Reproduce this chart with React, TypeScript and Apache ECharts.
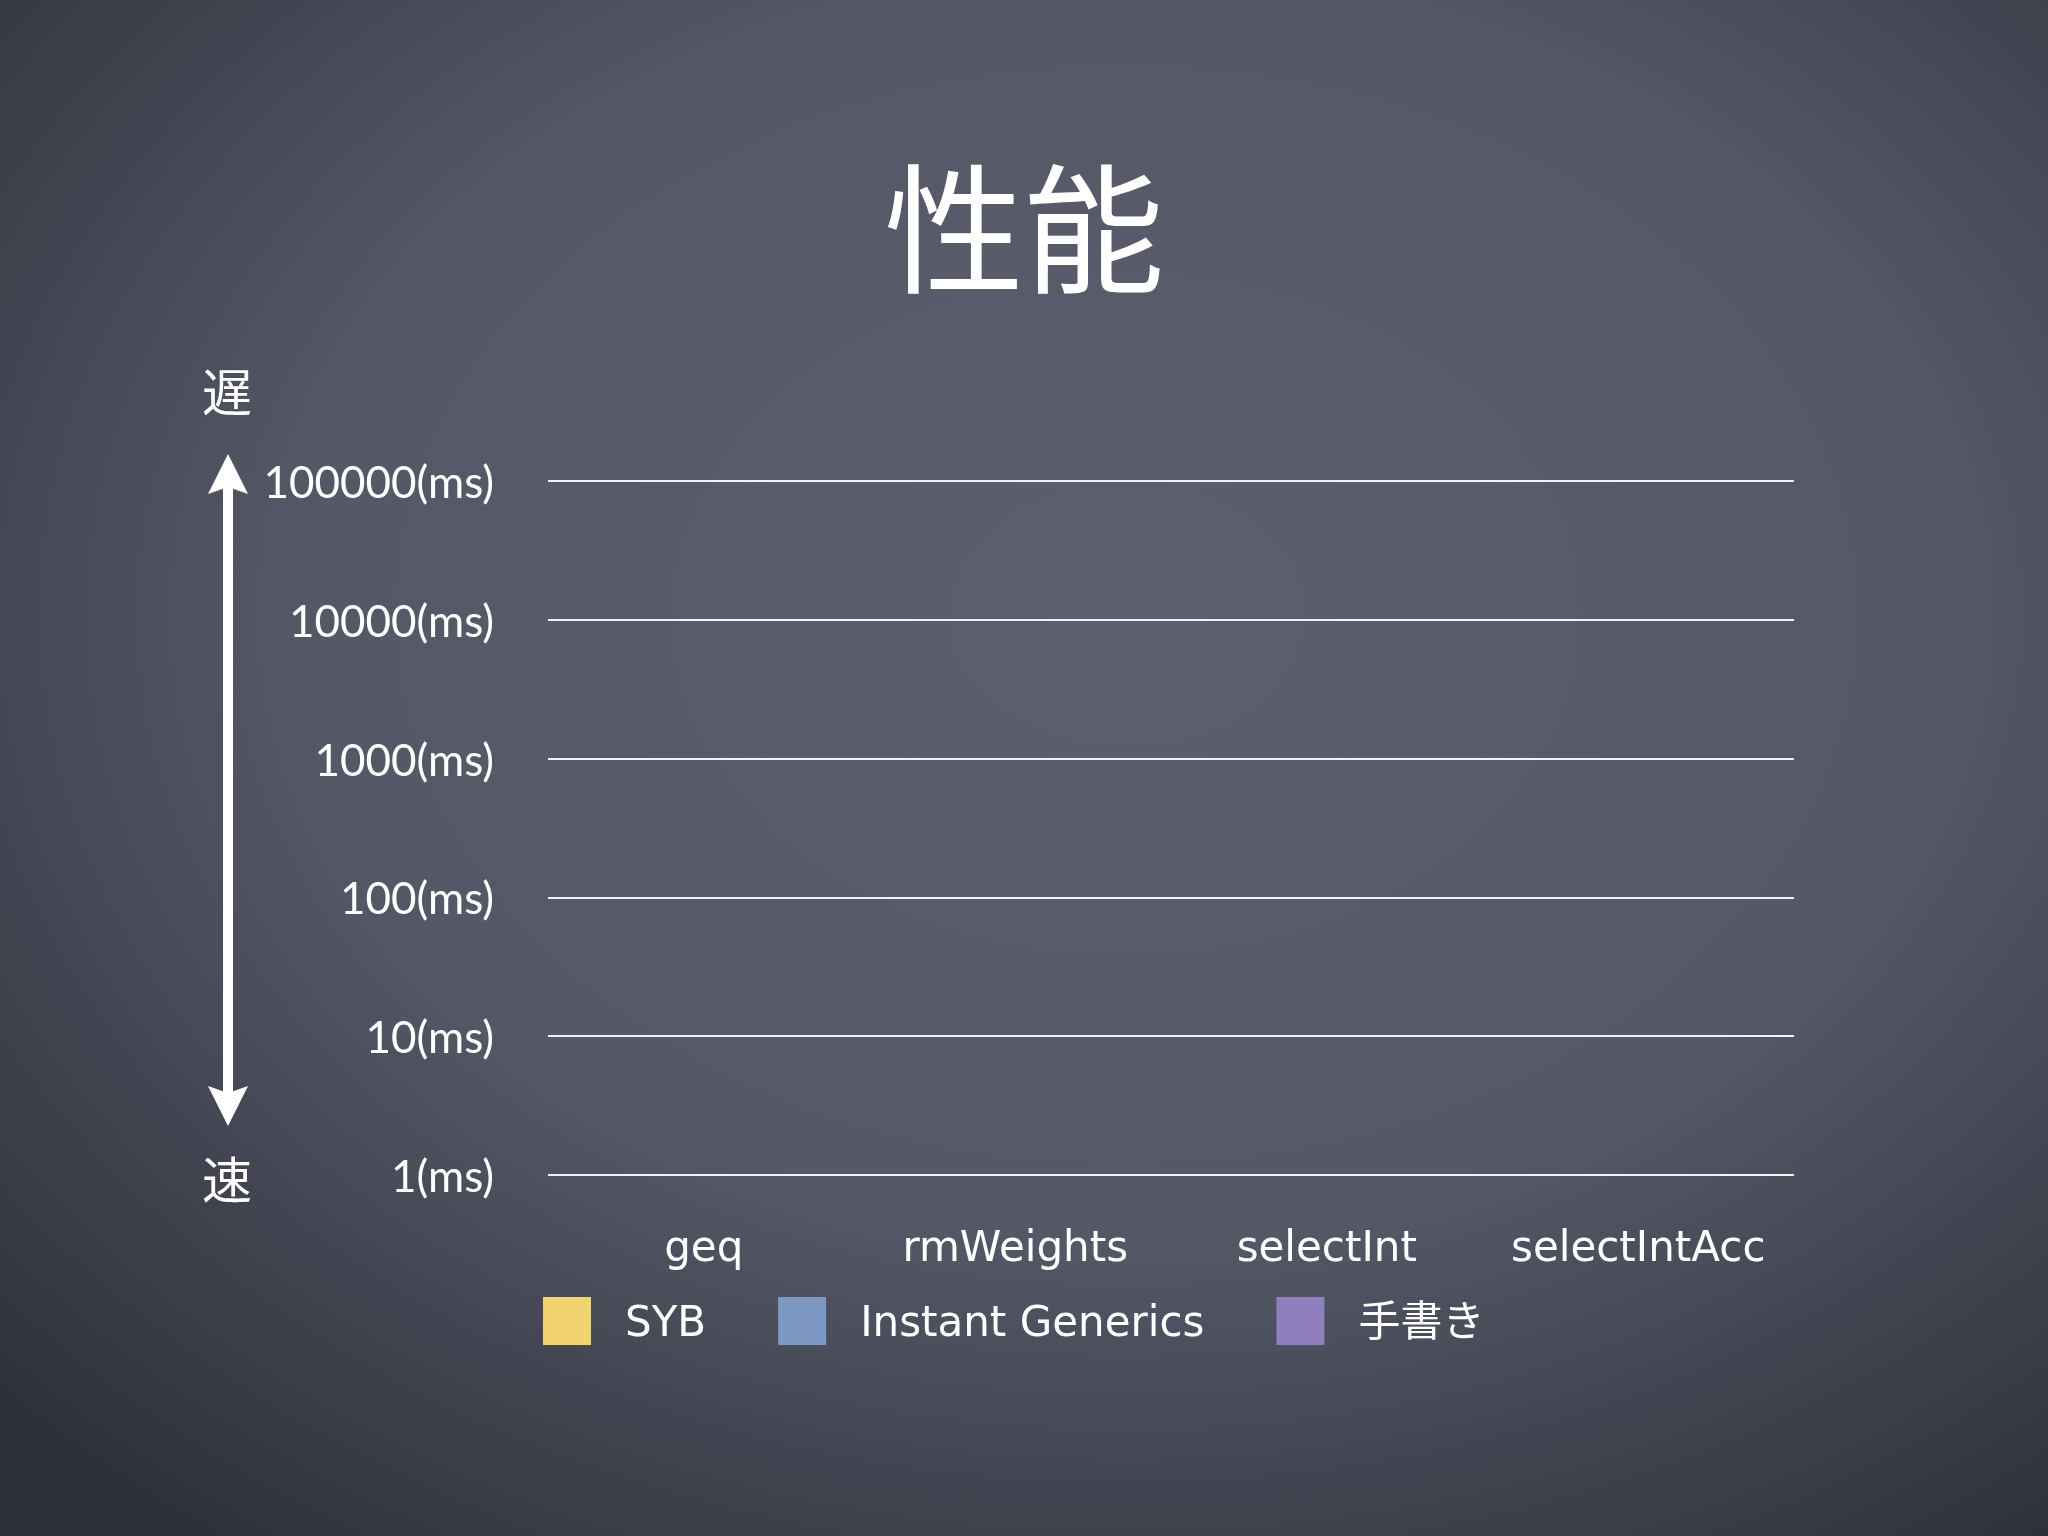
import * as echarts from "echarts";
import { useEffect, useRef } from "react";

// categories on the x axis
const categories = ["geq", "rmWeights", "selectInt", "selectIntAcc"];

// series shown in the legend (this slide has no bars drawn yet)
const seriesNames = ["SYB", "Instant Generics", "手書き"];
const seriesColors = ["#f2d46f", "#7d98c2", "#8f7fbe"];
const sybTimes: (number | null)[] = [null, null, null, null];
const instantGenericsTimes: (number | null)[] = [null, null, null, null];
const handWrittenTimes: (number | null)[] = [null, null, null, null];

// log scale bounds in ms
const yMin = 1;
const yMax = 100000;

const title = "性能";
const slowLabel = "遅";
const fastLabel = "速";

const App: React.FC = () => {
    const chartRef = useRef<HTMLDivElement>(null);

    useEffect(() => {
        const chart = echarts.init(chartRef.current!, null, { renderer: "svg" });

        const values = [sybTimes, instantGenericsTimes, handWrittenTimes];

        const option = {
            animation: false,
            backgroundColor: {
                type: "radial",
                x: 0.55,
                y: 0.4,
                r: 0.75,
                colorStops: [
                    { offset: 0, color: "#5b5f6e" },
                    { offset: 0.55, color: "#535766" },
                    { offset: 1, color: "#2f3139" },
                ],
            },
            title: {
                text: title,
                left: "center",
                top: 146,
                textStyle: {
                    color: "#ffffff",
                    fontSize: 140,
                    fontWeight: "normal",
                    fontFamily: "Noto Sans CJK JP",
                },
            },
            legend: {
                left: 543,
                top: 1297,
                padding: 0,
                itemWidth: 48,
                itemHeight: 48,
                itemGap: 72,
                icon: "rect",
                data: seriesNames,
                textStyle: {
                    color: "#ffffff",
                    fontSize: 42,
                    fontFamily: "DejaVu Sans, Noto Sans CJK JP",
                    padding: [0, 0, 0, 29],
                },
            },
            grid: {
                left: 548,
                right: 254,
                top: 481,
                bottom: 361,
            },
            xAxis: {
                type: "category",
                data: categories,
                axisLine: { show: false },
                axisTick: { show: false },
                axisLabel: {
                    interval: 0,
                    color: "#ffffff",
                    fontSize: 42,
                    fontFamily: "DejaVu Sans",
                    margin: 50,
                },
            },
            yAxis: {
                type: "log",
                logBase: 10,
                min: yMin,
                max: yMax,
                axisLine: { show: false },
                axisTick: { show: false },
                axisLabel: {
                    color: "#ffffff",
                    fontSize: 44,
                    fontFamily: "Lato",
                    margin: 54,
                    formatter: (v: number) => `${v}(ms)`,
                },
                splitLine: {
                    lineStyle: { color: "#f2f2f2", width: 2 },
                },
            },
            series: seriesNames.map((name, i) => ({
                name,
                type: "bar",
                data: values[i],
                itemStyle: { color: seriesColors[i] },
            })),
            graphic: [
                {
                    type: "text",
                    x: 227,
                    y: 389,
                    style: {
                        text: slowLabel,
                        fill: "#ffffff",
                        fontSize: 50,
                        fontFamily: "Noto Sans CJK JP",
                        textAlign: "center",
                        textVerticalAlign: "middle",
                    },
                },
                {
                    type: "text",
                    x: 227,
                    y: 1177,
                    style: {
                        text: fastLabel,
                        fill: "#ffffff",
                        fontSize: 50,
                        fontFamily: "Noto Sans CJK JP",
                        textAlign: "center",
                        textVerticalAlign: "middle",
                    },
                },
                // double-headed arrow
                {
                    type: "rect",
                    shape: { x: 223, y: 486, width: 10, height: 607 },
                    style: { fill: "#ffffff" },
                },
                {
                    type: "polygon",
                    shape: {
                        points: [
                            [228, 454],
                            [248, 494],
                            [228, 487],
                            [208, 494],
                        ],
                    },
                    style: { fill: "#ffffff" },
                },
                {
                    type: "polygon",
                    shape: {
                        points: [
                            [228, 1126],
                            [248, 1086],
                            [228, 1093],
                            [208, 1086],
                        ],
                    },
                    style: { fill: "#ffffff" },
                },
            ],
        };

        chart.setOption(option);

        return () => {
            chart.dispose();
        };
    }, []);

    return (
        <div
            ref={chartRef}
            style={{
                position: "fixed",
                left: 0,
                top: 0,
                width: "2048px",
                height: "1536px",
            }}
        />
    );
};

export default App;
